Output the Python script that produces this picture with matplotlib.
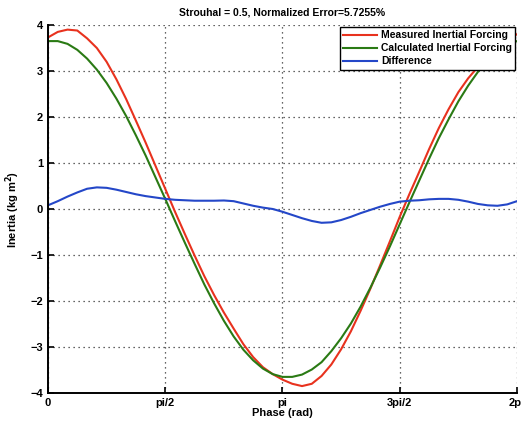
import matplotlib
matplotlib.use('Agg')
import matplotlib.pyplot as plt
import numpy as np

# phase samples every pi/24 over one cycle
phase_steps = list(range(49))

measured = [3.73, 3.85, 3.90, 3.88, 3.71, 3.50, 3.20, 2.82, 2.39, 1.92,
            1.44, 0.94, 0.44, -0.06, -0.54, -1.01, -1.46, -1.87, -2.25,
            -2.60, -2.94, -3.22, -3.44, -3.59, -3.71, -3.80, -3.85, -3.80,
            -3.63, -3.38, -3.05, -2.66, -2.21, -1.73, -1.22, -0.70, -0.17,
            0.33, 0.81, 1.30, 1.76, 2.17, 2.54, 2.84, 3.09, 3.32, 3.51,
            3.68, 3.80]

calculated = [3.65, 3.65, 3.59, 3.46, 3.27, 3.03, 2.74, 2.40, 2.02, 1.60,
              1.16, 0.69, 0.22, -0.26, -0.73, -1.19, -1.64, -2.05, -2.43,
              -2.77, -3.06, -3.29, -3.47, -3.59, -3.65, -3.65, -3.60, -3.49,
              -3.33, -3.09, -2.81, -2.49, -2.12, -1.71, -1.27, -0.81, -0.33,
              0.15, 0.62, 1.09, 1.54, 1.95, 2.34, 2.68, 2.98, 3.24, 3.44,
              3.58, 3.65]

difference = [0.08, 0.17, 0.27, 0.36, 0.44, 0.47, 0.46, 0.42, 0.37, 0.32,
              0.28, 0.25, 0.22, 0.20, 0.19, 0.18, 0.18, 0.18, 0.185, 0.17,
              0.12, 0.07, 0.03, 0.00, -0.06, -0.13, -0.20, -0.26, -0.30,
              -0.29, -0.24, -0.17, -0.09, -0.02, 0.05, 0.11, 0.16, 0.18,
              0.19, 0.21, 0.22, 0.22, 0.20, 0.16, 0.11, 0.08, 0.07, 0.10,
              0.17]

xtick_labels = ['0', 'pi/2', 'pi', '3pi/2', '2pi']
yticks = [-4, -3, -2, -1, 0, 1, 2, 3, 4]

plt.rcParams['font.family'] = ['Liberation Sans', 'DejaVu Sans']
plt.rcParams['font.weight'] = 'bold'

phase = np.array(phase_steps) * np.pi / 24

fig = plt.figure(figsize=(5.21, 4.26), dpi=100)
ax = fig.add_axes([0.0921, 0.0775, 0.9002, 0.8638])

ax.plot(phase, measured, color='#e8321e', lw=1.5, label='Measured Inertial Forcing')
ax.plot(phase, calculated, color='#2a7a14', lw=1.5, label='Calculated Inertial Forcing')
ax.plot(phase, difference, color='#2447c8', lw=1.5, label='Difference')

ax.set_xlim(0, 2 * np.pi)
ax.set_ylim(-4, 4)
ax.set_xticks(np.arange(5) * np.pi / 2)
ax.set_xticklabels(xtick_labels)
ax.set_yticks(yticks)
ax.tick_params(direction='in', length=4, labelsize=8, width=1.2)
ax.grid(True, color='#333333', linestyle=(0, (1, 3)), lw=0.9)

for s in ['top', 'right']:
    ax.spines[s].set_visible(False)
for s in ['left', 'bottom']:
    ax.spines[s].set_linewidth(1.4)

ax.set_title('Strouhal = 0.5, Normalized Error=5.7255%', fontsize=7.5,
             fontweight='bold', pad=7)
ax.set_xlabel('Phase (rad)', fontsize=8, fontweight='bold', labelpad=0)
ax.set_ylabel('Inertia (kg m$^2$)', fontsize=8, fontweight='bold', labelpad=6)

leg = ax.legend(loc='upper right', fontsize=7.5, frameon=True, fancybox=False,
                borderpad=0.3, labelspacing=0.3, handlelength=3.2,
                handletextpad=0.4, borderaxespad=0.2)
leg.get_frame().set_edgecolor('black')
leg.get_frame().set_linewidth(1.0)
leg.get_frame().set_alpha(1)

fig.savefig('out.png', dpi=100)
